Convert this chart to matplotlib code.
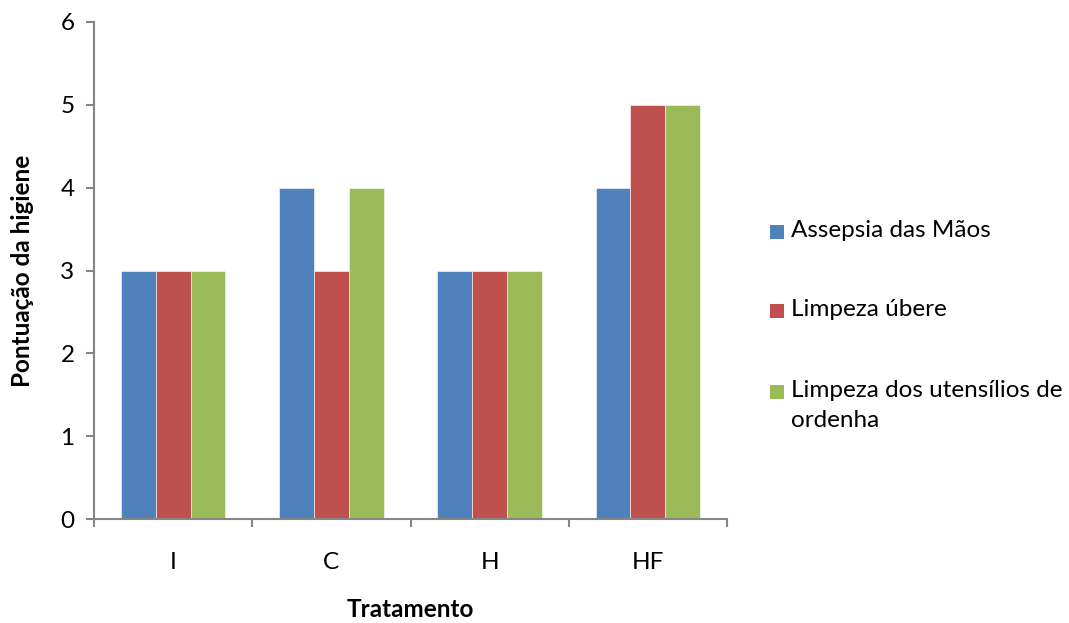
import matplotlib
matplotlib.use("Agg")
import matplotlib.pyplot as plt
from matplotlib.patches import Rectangle
import numpy as np

plt.rcParams['font.family'] = ['Lato', 'DejaVu Sans']

categories = ["I", "C", "H", "HF"]
series_names = ["Assepsia das Mãos", "Limpeza úbere", "Limpeza dos utensílios de\nordenha"]
assepsia_maos = [3, 4, 3, 4]
limpeza_ubere = [3, 3, 3, 5]
limpeza_utensilios = [3, 4, 3, 5]
colors = ["#4F81BD", "#C0504D", "#9BBB59"]
yticks = [0, 1, 2, 3, 4, 5, 6]

fs = 17.5
W, H = 1069, 623
fig = plt.figure(figsize=(W / 100, H / 100), dpi=100)
ax = fig.add_axes([94 / W, 1 - 519 / H, (727 - 94) / W, (519 - 22) / H])

x = np.arange(len(categories))
w = 0.22
for i, (vals, name, c) in enumerate(zip([assepsia_maos, limpeza_ubere, limpeza_utensilios], series_names, colors)):
    ax.bar(x + (i - 1) * w, vals, width=w, color=c, label=name, edgecolor='white', linewidth=0.4)

ax.set_xlim(-0.5, len(categories) - 0.5)
ax.set_ylim(0, 6)
ax.set_yticks(yticks)
ax.set_xticks(x)
ax.set_xticklabels(categories)
ax.set_xticks(np.arange(len(categories) + 1) - 0.5, minor=True)

axis_col = "#868686"
for s in ["top", "right"]:
    ax.spines[s].set_visible(False)
for s in ["left", "bottom"]:
    ax.spines[s].set_color(axis_col)
    ax.spines[s].set_linewidth(1.5)

ax.tick_params(axis='y', which='major', length=6, width=1.5, color=axis_col, labelsize=fs, pad=8)
ax.tick_params(axis='x', which='major', length=0, labelsize=fs, pad=24)
ax.tick_params(axis='x', which='minor', length=6, width=1.5, color=axis_col)

ax.set_ylabel("Pontuação da higiene", fontsize=fs, fontweight='bold', labelpad=19)
ax.set_xlabel("Tratamento", fontsize=fs, fontweight='bold', labelpad=18)

# legend: colour square beside the first line of each entry
entry_y = [232, 311, 392]
sq = 14
for name, c, yc in zip(series_names, colors, entry_y):
    fig.patches.append(Rectangle(((770) / W, 1 - (yc + sq / 2) / H), sq / W, sq / H,
                                 transform=fig.transFigure, facecolor=c, edgecolor='none'))
    fig.text(791 / W, 1 - (yc - 12) / H, name, fontsize=fs, va='top', ha='left',
             linespacing=1.55)

fig.savefig("out.png", dpi=100)
